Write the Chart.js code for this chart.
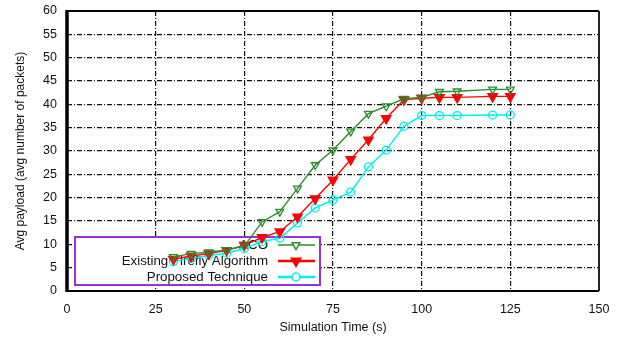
<!DOCTYPE html>
<html>
<head>
<meta charset="utf-8">
<script src="https://cdn.jsdelivr.net/npm/chart.js@4/dist/chart.umd.min.js"></script>
<style>
html,body{margin:0;padding:0;background:#fff;}
#wrap{width:623px;height:344px;position:relative;}
</style>
</head>
<body>
<div id="wrap"><canvas id="c" width="623" height="344"></canvas></div>
<script>
// ---- data ----
const simTime = [30, 35, 40, 45, 50, 55, 60, 65, 70, 75, 80, 85, 90, 95, 100, 105, 110, 120, 125];
const acoPayload      = [7.3, 8.0, 8.3, 8.8, 9.6, 14.8, 17.0, 22.0, 27.0, 30.2, 34.2, 38.0, 39.6, 41.2, 41.5, 42.7, 42.8, 43.2, 43.2];
const fireflyPayload  = [6.8, 7.5, 8.0, 8.7, 9.8, 11.5, 12.7, 15.9, 19.8, 23.8, 28.2, 32.4, 37.0, 41.0, 41.3, 41.5, 41.5, 41.7, 41.7];
const proposedPayload = [6.3, 7.0, 7.6, 8.1, 9.1, 10.6, 11.3, 14.6, 17.8, 19.5, 21.2, 26.6, 30.2, 35.3, 37.6, 37.6, 37.6, 37.7, 37.7];
const seriesNames = ['ACO', 'Existing Firefly Algorithm', 'Proposed Technique'];
const xTicks = [0, 25, 50, 75, 100, 125, 150];
const yTicks = [0, 5, 10, 15, 20, 25, 30, 35, 40, 45, 50, 55, 60];
const xTitle = 'Simulation Time (s)';
const yTitle = 'Avg payload (avg number of packets)';

const FONT = '"Liberation Sans", Arial, sans-serif';
const toPts = arr => arr.map((v, i) => ({x: simTime[i], y: v}));

const styles = [
  {color: '#2e8b2e', pointStyle: 'triangle', rotation: 180, radius: 4.5, fill: false, bw: 1.3},
  {color: '#ff0000', pointStyle: 'triangle', rotation: 180, radius: 5.5, fill: true, bw: 1.3},
  {color: '#00f0f0', pointStyle: 'circle', rotation: 0, radius: 4, fill: false, bw: 1.3}
];
const values = [acoPayload, fireflyPayload, proposedPayload];

const datasets = values.map((vals, i) => ({
  label: seriesNames[i],
  data: toPts(vals),
  borderColor: styles[i].color,
  backgroundColor: styles[i].fill ? styles[i].color : '#ffffff',
  borderWidth: 1.4,
  pointStyle: styles[i].pointStyle,
  pointRotation: styles[i].rotation,
  pointRadius: styles[i].radius,
  pointBorderWidth: styles[i].bw,
  pointBackgroundColor: styles[i].fill ? styles[i].color : 'rgba(0,0,0,0)',
  pointBorderColor: styles[i].color,
  tension: 0,
  fill: false
}));

const framePlugin = {
  id: 'frameAndLegend',
  beforeDatasetsDraw(chart) {
    const {ctx, chartArea: a} = chart;
    ctx.save();
    // frame
    ctx.strokeStyle = '#000';
    ctx.lineWidth = 2;
    ctx.beginPath();
    ctx.moveTo(a.left, a.top); ctx.lineTo(a.right, a.top);
    ctx.moveTo(a.left, a.bottom); ctx.lineTo(a.right, a.bottom);
    ctx.stroke();
    ctx.strokeStyle = '#222';
    ctx.beginPath();
    ctx.moveTo(a.right, a.top); ctx.lineTo(a.right, a.bottom);
    ctx.stroke();
    ctx.strokeStyle = '#000';
    ctx.lineWidth = 3.5;
    ctx.beginPath();
    ctx.moveTo(a.left, a.top - 1); ctx.lineTo(a.left, a.bottom + 1);
    ctx.stroke();

    // legend box (drawn under the data lines)
    const bx = a.left + 8, by = a.top + 226, bw = 245, bh = 48;
    ctx.fillStyle = '#ffffff';
    ctx.fillRect(bx, by, bw, bh);
    ctx.strokeStyle = '#9b30d9';
    ctx.lineWidth = 2;
    ctx.strokeRect(bx, by, bw, bh);
    ctx.font = '13.3px ' + FONT;
    ctx.textAlign = 'right';
    ctx.textBaseline = 'middle';
    const rows = [by + 8, by + 24, by + 40];
    rows.forEach((ry, i) => {
      ctx.fillStyle = '#111';
      ctx.fillText(seriesNames[i], bx + 193, ry);
      const st = styles[i];
      ctx.strokeStyle = st.color;
      ctx.lineWidth = i === 0 ? 1.5 : 2.5;
      ctx.beginPath();
      ctx.moveTo(bx + 203, ry); ctx.lineTo(bx + 240, ry);
      ctx.stroke();
      ctx.fillStyle = st.fill ? st.color : '#ffffff';
      ctx.strokeStyle = st.color;
      ctx.lineWidth = 1.5;
      Chart.helpers.drawPoint(ctx, {pointStyle: st.pointStyle, rotation: st.rotation, radius: st.radius, borderWidth: 1.5}, bx + 221, ry);
    });
    ctx.restore();
  }
};

const gridCfg = {color: '#111', lineWidth: 1.2, drawTicks: false};

new Chart(document.getElementById('c'), {
  type: 'line',
  data: {datasets},
  plugins: [framePlugin],
  options: {
    responsive: false,
    animation: false,
    layout: {padding: {left: 0, top: 11, right: 24, bottom: 0}},
    plugins: {legend: {display: false}, tooltip: {enabled: false}},
    scales: {
      x: {
        type: 'linear', min: 0, max: 150,
        afterBuildTicks: s => { s.ticks = xTicks.map(v => ({value: v})); },
        afterFit: s => { s.height = 53; s.paddingLeft = 0; s.paddingRight = 0; },
        grid: gridCfg,
        border: {display: false, dash: [5, 2, 1, 2]},
        ticks: {color: '#111', font: {family: FONT, size: 12.5}, padding: 11, maxRotation: 0},
        title: {display: true, text: xTitle, color: '#111', font: {family: FONT, size: 12.5}, padding: {top: 0, bottom: 9}}
      },
      y: {
        type: 'linear', min: 0, max: 60,
        afterBuildTicks: s => { s.ticks = yTicks.map(v => ({value: v})); },
        afterFit: s => { s.width = 67; s.paddingTop = 0; s.paddingBottom = 0; },
        grid: gridCfg,
        border: {display: false, dash: [5, 2, 1, 2]},
        ticks: {color: '#111', font: {family: FONT, size: 12.5}, padding: 10},
        title: {display: true, text: yTitle, color: '#111', font: {family: FONT, size: 12}, padding: {top: 13, bottom: 0}}
      }
    }
  }
});
</script>
</body>
</html>
